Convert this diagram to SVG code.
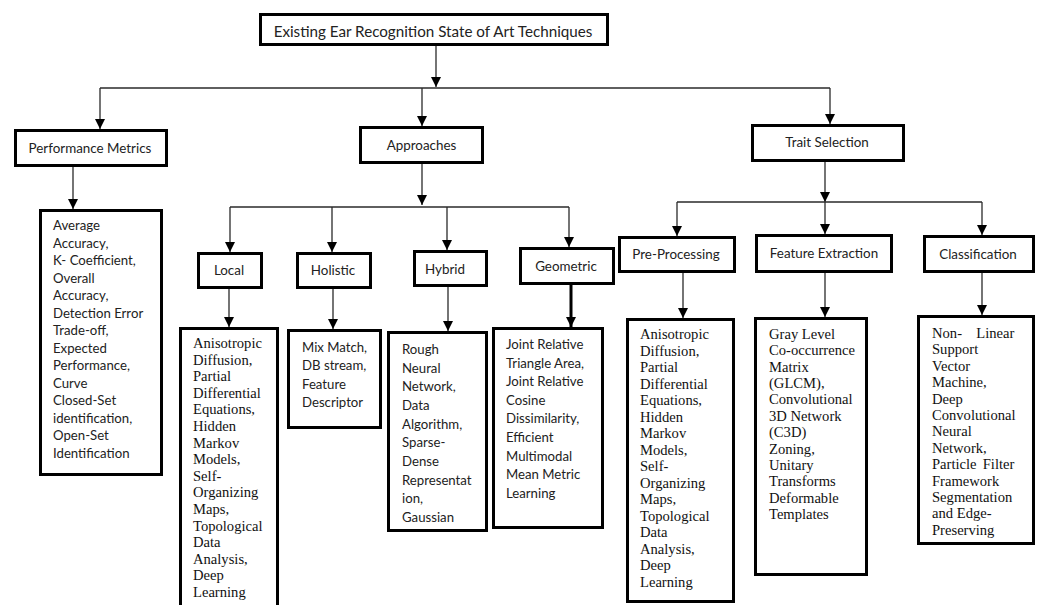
<svg xmlns="http://www.w3.org/2000/svg" width="1043" height="605" viewBox="0 0 1043 605">
  <style>
    .box { fill: #fff; stroke: #000; stroke-width: 3; }
    .lbl { font-family: Lato, "Liberation Sans", sans-serif; font-size: 13.4px; fill: #222; text-anchor: middle; }
    .title { font-family: Lato, "Liberation Sans", sans-serif; font-size: 15.2px; fill: #222; text-anchor: middle; }
    .sans { font-family: Lato, "Liberation Sans", sans-serif; font-size: 13.2px; fill: #222; }
    .serif { font-family: "Liberation Serif", "Times New Roman", serif; font-size: 14.6px; fill: #111; }
    .wire { fill: none; stroke: #2a2a2a; stroke-width: 1.3; }
    .arr { marker-end: url(#head); }
    .thick { stroke-width: 3; stroke: #000; }
  </style>
  <defs>
    <marker id="head" markerUnits="userSpaceOnUse" markerWidth="10" markerHeight="10" refX="10" refY="5" orient="auto">
      <path d="M0,0 L10,5 L0,10 z" fill="#000"/>
    </marker>
  </defs>
  <rect width="1043" height="605" fill="#fff"/>

  <!-- connectors -->
  <g id="connectors">
    <line class="wire arr" x1="436" y1="46" x2="436" y2="87"/>
    <line class="wire" x1="100" y1="88" x2="830" y2="88"/>
    <line class="wire arr" x1="100" y1="88" x2="100" y2="129"/>
    <line class="wire arr" x1="422" y1="88" x2="422" y2="126"/>
    <line class="wire arr" x1="830" y1="88" x2="830" y2="124"/>
    <line class="wire arr" x1="73" y1="167" x2="73" y2="209"/>

    <line class="wire arr" x1="422" y1="164" x2="422" y2="205"/>
    <line class="wire" x1="230" y1="207" x2="569" y2="207"/>
    <line class="wire arr" x1="230" y1="207" x2="230" y2="252"/>
    <line class="wire arr" x1="332" y1="207" x2="332" y2="252"/>
    <line class="wire arr" x1="447" y1="207" x2="447" y2="250"/>
    <line class="wire arr" x1="569" y1="207" x2="569" y2="247"/>

    <line class="wire arr" x1="825" y1="162" x2="825" y2="202"/>
    <line class="wire" x1="677" y1="202" x2="982" y2="202"/>
    <line class="wire arr" x1="677" y1="202" x2="677" y2="236"/>
    <line class="wire arr" x1="825" y1="202" x2="825" y2="234"/>
    <line class="wire arr" x1="982" y1="202" x2="982" y2="235"/>

    <line class="wire arr" x1="229" y1="289" x2="229" y2="327"/>
    <line class="wire arr" x1="333" y1="289" x2="333" y2="329"/>
    <line class="wire arr" x1="448" y1="287" x2="448" y2="331"/>
    <line class="wire thick arr" x1="571" y1="285" x2="571" y2="327"/>
    <line class="wire arr" x1="683" y1="273" x2="683" y2="318"/>
    <line class="wire arr" x1="825" y1="273" x2="825" y2="317"/>
    <line class="wire arr" x1="982" y1="273" x2="982" y2="315"/>
  </g>

  <g id="root">
    <rect class="box" x="260.5" y="14.5" width="347" height="30"/>
    <text class="title" x="433" y="37">Existing Ear Recognition State of Art Techniques</text>
  </g>

  <g id="performance-metrics">
    <rect class="box" x="15.5" y="130.5" width="151" height="35"/>
    <text class="lbl" x="90" y="153">Performance Metrics</text>
  </g>
  <g id="approaches">
    <rect class="box" x="360.5" y="127.5" width="122" height="35"/>
    <text class="lbl" x="421.5" y="150">Approaches</text>
  </g>
  <g id="trait-selection">
    <rect class="box" x="752.5" y="125.5" width="151" height="35"/>
    <text class="lbl" x="827" y="147">Trait Selection</text>
  </g>

  <g id="local">
    <rect class="box" x="198.5" y="253.5" width="63" height="34"/>
    <text class="lbl" x="229" y="275">Local</text>
  </g>
  <g id="holistic">
    <rect class="box" x="297.5" y="253.5" width="73" height="34"/>
    <text class="lbl" x="333" y="275">Holistic</text>
  </g>
  <g id="hybrid">
    <rect class="box" x="414.5" y="251.5" width="72" height="34"/>
    <text class="lbl" x="445" y="274">Hybrid</text>
  </g>
  <g id="geometric">
    <rect class="box" x="520.5" y="248.5" width="93" height="35"/>
    <text class="lbl" x="566" y="271">Geometric</text>
  </g>
  <g id="pre-processing">
    <rect class="box" x="619.5" y="237.5" width="115" height="34"/>
    <text class="lbl" x="676" y="259">Pre-Processing</text>
  </g>
  <g id="feature-extraction">
    <rect class="box" x="756.5" y="235.5" width="135" height="36"/>
    <text class="lbl" x="824" y="258">Feature Extraction</text>
  </g>
  <g id="classification">
    <rect class="box" x="924.5" y="236.5" width="109" height="35"/>
    <text class="lbl" x="978" y="259">Classification</text>
  </g>

  <g id="metrics-list">
    <rect class="box" x="40.5" y="210.5" width="121" height="264"/>
    <text class="sans">
      <tspan x="53" y="230">Average</tspan>
      <tspan x="53" y="247.5">Accuracy,</tspan>
      <tspan x="53" y="265">K- Coefficient,</tspan>
      <tspan x="53" y="282.5">Overall</tspan>
      <tspan x="53" y="300">Accuracy,</tspan>
      <tspan x="53" y="317.5">Detection Error</tspan>
      <tspan x="53" y="335">Trade-off,</tspan>
      <tspan x="53" y="352.5">Expected</tspan>
      <tspan x="53" y="370">Performance,</tspan>
      <tspan x="53" y="387.5">Curve</tspan>
      <tspan x="53" y="405">Closed-Set</tspan>
      <tspan x="53" y="422.5">identification,</tspan>
      <tspan x="53" y="440">Open-Set</tspan>
      <tspan x="53" y="457.5">Identification</tspan>
    </text>
  </g>

  <g id="local-list">
    <rect class="box" x="180.5" y="328.5" width="97" height="290"/>
    <text class="serif">
      <tspan x="193" y="348">Anisotropic</tspan>
      <tspan x="193" y="364.6">Diffusion,</tspan>
      <tspan x="193" y="381.2">Partial</tspan>
      <tspan x="193" y="397.8">Differential</tspan>
      <tspan x="193" y="414.4">Equations,</tspan>
      <tspan x="193" y="431">Hidden</tspan>
      <tspan x="193" y="447.6">Markov</tspan>
      <tspan x="193" y="464.2">Models,</tspan>
      <tspan x="193" y="480.8">Self-</tspan>
      <tspan x="193" y="497.4">Organizing</tspan>
      <tspan x="193" y="514">Maps,</tspan>
      <tspan x="193" y="530.6">Topological</tspan>
      <tspan x="193" y="547.2">Data</tspan>
      <tspan x="193" y="563.8">Analysis,</tspan>
      <tspan x="193" y="580.4">Deep</tspan>
      <tspan x="193" y="597">Learning</tspan>
    </text>
  </g>

  <g id="holistic-list">
    <rect class="box" x="288.5" y="330.5" width="92" height="97"/>
    <text class="sans">
      <tspan x="302" y="352">Mix Match,</tspan>
      <tspan x="302" y="370.3">DB stream,</tspan>
      <tspan x="302" y="388.6">Feature</tspan>
      <tspan x="302" y="406.9">Descriptor</tspan>
    </text>
  </g>

  <g id="hybrid-list">
    <rect class="box" x="388.5" y="332.5" width="98" height="198"/>
    <text class="sans">
      <tspan x="402" y="354">Rough</tspan>
      <tspan x="402" y="372.7">Neural</tspan>
      <tspan x="402" y="391.3">Network,</tspan>
      <tspan x="402" y="410">Data</tspan>
      <tspan x="402" y="428.7">Algorithm,</tspan>
      <tspan x="402" y="447.3">Sparse-</tspan>
      <tspan x="402" y="466">Dense</tspan>
      <tspan x="402" y="484.7">Representat</tspan>
      <tspan x="402" y="503.3">ion,</tspan>
      <tspan x="402" y="522">Gaussian</tspan>
    </text>
  </g>

  <g id="geometric-list">
    <rect class="box" x="493.5" y="328.5" width="109" height="199"/>
    <text class="sans">
      <tspan x="506" y="349">Joint Relative</tspan>
      <tspan x="506" y="367.6">Triangle Area,</tspan>
      <tspan x="506" y="386.2">Joint Relative</tspan>
      <tspan x="506" y="404.8">Cosine</tspan>
      <tspan x="506" y="423.4">Dissimilarity,</tspan>
      <tspan x="506" y="442">Efficient</tspan>
      <tspan x="506" y="460.6">Multimodal</tspan>
      <tspan x="506" y="479.2">Mean Metric</tspan>
      <tspan x="506" y="497.8">Learning</tspan>
    </text>
  </g>

  <g id="preprocessing-list">
    <rect class="box" x="627.5" y="319.5" width="106" height="282"/>
    <text class="serif">
      <tspan x="640" y="339">Anisotropic</tspan>
      <tspan x="640" y="355.5">Diffusion,</tspan>
      <tspan x="640" y="372.1">Partial</tspan>
      <tspan x="640" y="388.6">Differential</tspan>
      <tspan x="640" y="405.1">Equations,</tspan>
      <tspan x="640" y="421.7">Hidden</tspan>
      <tspan x="640" y="438.2">Markov</tspan>
      <tspan x="640" y="454.7">Models,</tspan>
      <tspan x="640" y="471.2">Self-</tspan>
      <tspan x="640" y="487.8">Organizing</tspan>
      <tspan x="640" y="504.3">Maps,</tspan>
      <tspan x="640" y="520.8">Topological</tspan>
      <tspan x="640" y="537.4">Data</tspan>
      <tspan x="640" y="553.9">Analysis,</tspan>
      <tspan x="640" y="570.4">Deep</tspan>
      <tspan x="640" y="587">Learning</tspan>
    </text>
  </g>

  <g id="feature-list">
    <rect class="box" x="755.5" y="318.5" width="111" height="256"/>
    <text class="serif">
      <tspan x="769" y="339">Gray Level</tspan>
      <tspan x="769" y="355.4">Co-occurrence</tspan>
      <tspan x="769" y="371.7">Matrix</tspan>
      <tspan x="769" y="388.1">(GLCM),</tspan>
      <tspan x="769" y="404.4">Convolutional</tspan>
      <tspan x="769" y="420.8">3D Network</tspan>
      <tspan x="769" y="437.2">(C3D)</tspan>
      <tspan x="769" y="453.5">Zoning,</tspan>
      <tspan x="769" y="469.9">Unitary</tspan>
      <tspan x="769" y="486.2">Transforms</tspan>
      <tspan x="769" y="502.6">Deformable</tspan>
      <tspan x="769" y="519">Templates</tspan>
    </text>
  </g>

  <g id="classification-list">
    <rect class="box" x="918.5" y="316.5" width="115" height="227"/>
    <text class="serif">
      <tspan x="932" y="338">Non-</tspan>
      <tspan x="1018" y="338" text-anchor="end">Linear</tspan>
      <tspan x="932" y="354.4">Support</tspan>
      <tspan x="932" y="370.8">Vector</tspan>
      <tspan x="932" y="387.2">Machine,</tspan>
      <tspan x="932" y="403.6">Deep</tspan>
      <tspan x="932" y="420">Convolutional</tspan>
      <tspan x="932" y="436.4">Neural</tspan>
      <tspan x="932" y="452.8">Network,</tspan>
      <tspan x="932" y="469.2">Particle</tspan>
      <tspan x="1018" y="469.2" text-anchor="end">Filter</tspan>
      <tspan x="932" y="485.6">Framework</tspan>
      <tspan x="932" y="502">Segmentation</tspan>
      <tspan x="932" y="518.4">and Edge-</tspan>
      <tspan x="932" y="534.8">Preserving</tspan>
    </text>
  </g>
</svg>
